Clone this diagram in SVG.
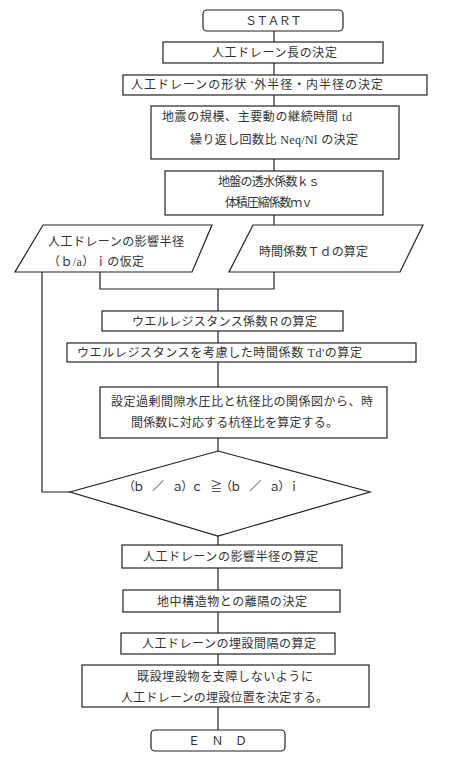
<svg xmlns="http://www.w3.org/2000/svg" width="450" height="759" viewBox="0 0 450 759">
<style>
  .box { fill: #ffffff; stroke: #222222; stroke-width: 1.2; }
  .conn { fill: none; stroke: #222222; stroke-width: 1.2; }
  text { font-family: "Liberation Serif", "Noto Sans CJK JP", serif; font-size: 12px; fill: #333333; dominant-baseline: central; }
  .c { text-anchor: middle; }
</style>
<rect width="450" height="759" fill="#ffffff"/>
<g id="connectors">
  <path class="conn" d="M274 31 V42 M274 63 V75 M274 95 V106 M274 159 V171 M274 215 V225"/>
  <path class="conn" d="M100 272 V289 H274 V272 M218 289 V311"/>
  <path class="conn" d="M218 331 V343 M218 362 V387 M218 438 V451"/>
  <path class="conn" d="M42 272 V492 H70"/>
  <path class="conn" d="M218 536 V545 M218 568 V590 M218 612 V633 M218 654 V665 M218 707 V730"/>
</g>
<g id="start">
  <rect class="box" x="203" y="10" width="140" height="21" rx="4"/>
  <text x="245" y="20.5" textLength="57" lengthAdjust="spacing">ＳＴＡＲＴ</text>
</g>
<g id="n1">
  <rect class="box" x="163" y="42" width="220" height="21"/>
  <text x="212" y="52.5" textLength="125" lengthAdjust="spacing">人工ドレーン長の決定</text>
</g>
<g id="n2">
  <rect class="box" x="123" y="75" width="304" height="20"/>
  <text x="131" y="85" textLength="252" lengthAdjust="spacing">人工ドレーンの形状 '外半径・内半径の決定</text>
</g>
<g id="n3">
  <rect class="box" x="151" y="106" width="248" height="53"/>
  <text x="162" y="117" textLength="190" lengthAdjust="spacing">地震の規模、主要動の継続時間 td</text>
  <text x="190" y="140" textLength="168" lengthAdjust="spacing">繰り返し回数比 Neq/Nl の決定</text>
</g>
<g id="n4">
  <rect class="box" x="165" y="171" width="218" height="44"/>
  <text x="218" y="182" textLength="102" lengthAdjust="spacing">地盤の透水係数ｋｓ</text>
  <text x="225" y="203" textLength="88" lengthAdjust="spacing">体積圧縮係数ｍｖ</text>
</g>
<g id="p1">
  <polygon class="box" points="43,225 212,225 192,272 15,272"/>
  <text x="48" y="242" textLength="136" lengthAdjust="spacing">人工ドレーンの影響半径</text>
  <text x="48" y="262" textLength="96" lengthAdjust="spacing">（ｂ/a）ｉの仮定</text>
</g>
<g id="p2">
  <polygon class="box" points="253,225 423,225 400,272 229,272"/>
  <text x="259" y="252" textLength="109" lengthAdjust="spacing">時間係数Ｔｄの算定</text>
</g>
<g id="nR">
  <rect class="box" x="102" y="311" width="241" height="20"/>
  <text x="132" y="322" textLength="185" lengthAdjust="spacing">ウエルレジスタンス係数Ｒの算定</text>
</g>
<g id="nTd">
  <rect class="box" x="67" y="343" width="349" height="19"/>
  <text x="77" y="353" textLength="285" lengthAdjust="spacing">ウエルレジスタンスを考慮した時間係数 Td'の算定</text>
</g>
<g id="nChart">
  <rect class="box" x="100" y="387" width="287" height="51"/>
  <text x="111" y="402" textLength="262" lengthAdjust="spacing">設定過剰間隙水圧比と杭径比の関係図から、時</text>
  <text x="131" y="423" textLength="207" lengthAdjust="spacing">間係数に対応する杭径比を算定する。</text>
</g>
<g id="decision">
  <polygon class="box" points="218,451 370,492 218,536 70,492"/>
  <text x="123" y="487" textLength="177" lengthAdjust="spacing">（ｂ　／　ａ）ｃ　≧（ｂ　／　ａ）ｉ</text>
</g>
<g id="nRadius">
  <rect class="box" x="122" y="545" width="220" height="23"/>
  <text x="143" y="557" textLength="175" lengthAdjust="spacing">人工ドレーンの影響半径の算定</text>
</g>
<g id="nClear">
  <rect class="box" x="123" y="590" width="217" height="22"/>
  <text x="157" y="602" textLength="150" lengthAdjust="spacing">地中構造物との離隔の決定</text>
</g>
<g id="nSpacing">
  <rect class="box" x="121" y="633" width="214" height="21"/>
  <text x="142" y="644" textLength="174" lengthAdjust="spacing">人工ドレーンの埋設間隔の算定</text>
</g>
<g id="nPosition">
  <rect class="box" x="82" y="665" width="287" height="42"/>
  <text x="137" y="677" textLength="176" lengthAdjust="spacing">既設埋設物を支障しないように</text>
  <text x="121" y="698" textLength="207" lengthAdjust="spacing">人工ドレーンの埋設位置を決定する。</text>
</g>
<g id="end">
  <rect class="box" x="151" y="730" width="134" height="21" rx="4"/>
  <text x="188" y="741" textLength="59" lengthAdjust="spacing">Ｅ　Ｎ　Ｄ</text>
</g>
</svg>
